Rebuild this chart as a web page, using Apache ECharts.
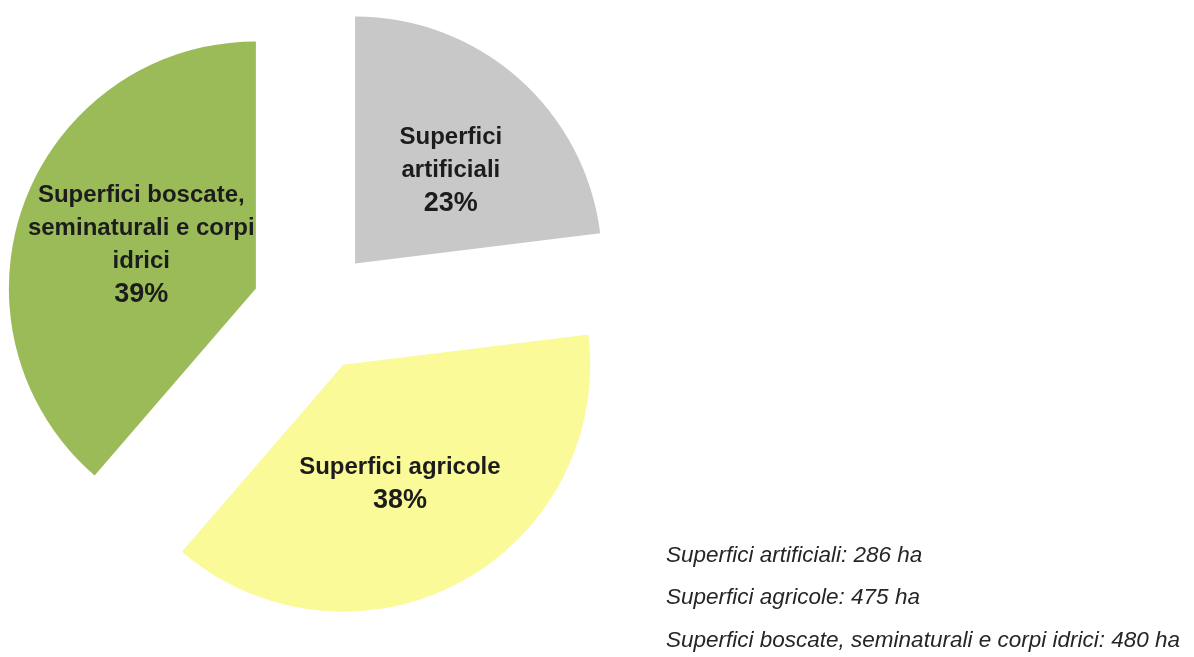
<!DOCTYPE html>
<html>
<head>
<meta charset="utf-8">
<script src="https://cdn.jsdelivr.net/npm/echarts@6/dist/echarts.min.js"></script>
<style>
html,body{margin:0;padding:0;background:#fff;}
#chart{width:1194px;height:657px;}
</style>
</head>
<body>
<div id="chart"></div>
<script>
// Data
const categories = ['Superfici artificiali', 'Superfici agricole', 'Superfici boscate, seminaturali e corpi idrici'];
const areaHa = [286, 475, 480];
const labelLines = [
  ['Superfici', 'artificiali'],
  ['Superfici agricole'],
  ['Superfici boscate,', 'seminaturali e corpi', 'idrici']
];
const sliceColors = ['#c8c8c8', '#fafa98', '#9bbb59'];
const labelShift = [[12, 2], [-3, 8], [4, 1]];

const chart = echarts.init(document.getElementById('chart'), null, {renderer: 'canvas'});

const seriesData = categories.map((c, i) => ({
  name: c,
  value: areaHa[i],
  selected: true,
  itemStyle: {color: sliceColors[i]}
}));

const noteLines = categories.map((c, i) => ({
  type: 'text',
  left: 666,
  top: 544 + i * 42.5,
  style: {
    text: c + ': ' + areaHa[i] + ' ha',
    font: 'italic 22.5px "Liberation Sans", Arial, sans-serif',
    fill: '#262626'
  }
}));

chart.setOption({
  animation: false,
  backgroundColor: '#ffffff',
  graphic: noteLines,
  series: [{
    type: 'pie',
    center: [314, 310],
    radius: [0, 247],
    startAngle: 90,
    clockwise: true,
    percentPrecision: 0,
    selectedMode: 'multiple',
    selectedOffset: 62,
    emphasis: {disabled: true},
    itemStyle: {borderWidth: 0},
    label: {
      show: true,
      position: 'inside',
      formatter: function (p) {
        const lines = labelLines[p.dataIndex].map(l => '{n|' + l + '}');
        return lines.join('\n') + '\n{p|' + p.percent + '%}';
      },
      rich: {
        n: {fontFamily: '"Liberation Sans", Arial, sans-serif', fontWeight: 'bold', fontSize: 24, lineHeight: 33, color: '#1c1c1c', align: 'center'},
        p: {fontFamily: '"Liberation Sans", Arial, sans-serif', fontWeight: 'bold', fontSize: 27, lineHeight: 34, color: '#1c1c1c', align: 'center'}
      }
    },
    labelLayout: function (params) {
      const s = labelShift[params.dataIndex];
      return {dx: s[0], dy: s[1]};
    },
    labelLine: {show: false},
    data: seriesData
  }]
});
</script>
</body>
</html>
